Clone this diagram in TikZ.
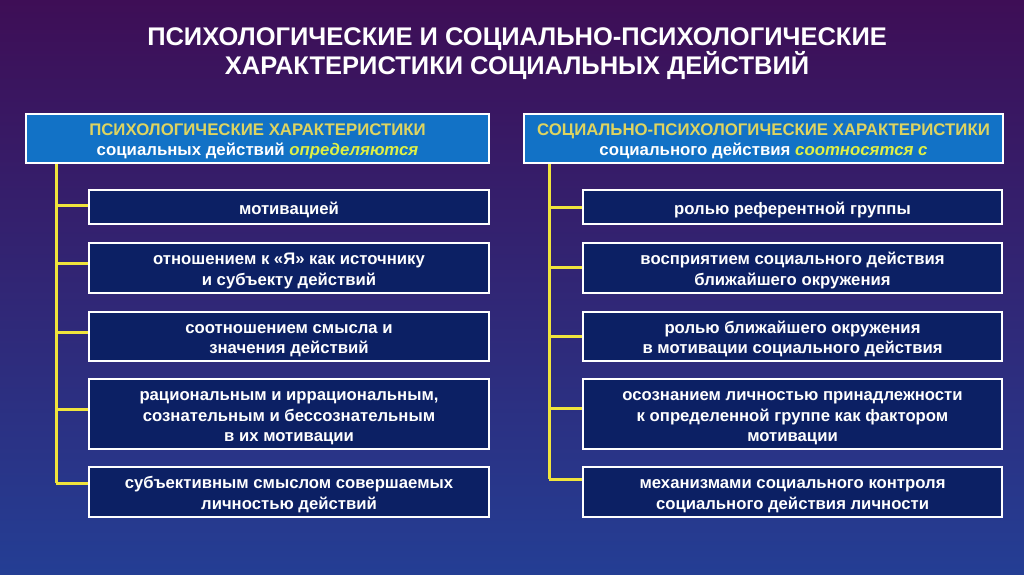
\documentclass[tikz,border=0pt]{standalone}
\usepackage{fontspec}
\setmainfont{Liberation Sans}
\usetikzlibrary{calc}
\definecolor{bgtop}{RGB}{62,14,86}
\definecolor{bgbot}{RGB}{36,62,148}
\definecolor{hdrfill}{RGB}{18,114,198}
\definecolor{itemfill}{RGB}{12,32,100}
\definecolor{yel}{RGB}{240,228,60}
\definecolor{hdrtxt}{RGB}{222,212,96}
\definecolor{hdrit}{RGB}{222,240,70}
\newcommand{\lbl}[1]{\raisebox{-3pt}[\height][\depth]{\begin{tabular}{@{}c@{}}#1\end{tabular}}}
\tikzset{
  hdrbox/.style={draw=white, line width=2.5pt, fill=hdrfill, inner sep=0pt,
    font=\bfseries\fontsize{16.8}{20}\selectfont, text=white},
  itembox/.style={draw=white, line width=2.5pt, fill=itemfill, inner sep=0pt,
    font=\bfseries\fontsize{16.7}{20.5}\selectfont, text=white},
  conn/.style={draw=yel, line width=3pt},
}
\begin{document}
\begin{tikzpicture}[x=1pt,y=-1pt]
\shade[top color=bgtop, bottom color=bgbot] (0,0) rectangle (1024,574);
\useasboundingbox (0,0) rectangle (1024,574);

\node[text=white, align=center, font=\bfseries\fontsize{25.5}{29}\selectfont] (title) at (517,54)
  {ПСИХОЛОГИЧЕСКИЕ И СОЦИАЛЬНО-ПСИХОЛОГИЧЕСКИЕ\\ХАРАКТЕРИСТИКИ СОЦИАЛЬНЫХ ДЕЙСТВИЙ};

% headers
\node[hdrbox, minimum width=463pt, minimum height=49pt] (lh) at (257.5,138.5)
  {\lbl{\textcolor{hdrtxt}{ПСИХОЛОГИЧЕСКИЕ ХАРАКТЕРИСТИКИ}\\социальных действий \textcolor{hdrit}{\itshape определяются}}};
\node[hdrbox, minimum width=479pt, minimum height=49pt] (rh) at (763.5,138.5)
  {\lbl{\textcolor{hdrtxt}{СОЦИАЛЬНО-ПСИХОЛОГИЧЕСКИЕ ХАРАКТЕРИСТИКИ}\\социального действия \textcolor{hdrit}{\itshape соотносятся с}}};

% left items
\node[itembox, minimum width=400pt, minimum height=34pt] (l1) at (289,207) {\lbl{мотивацией}};
\node[itembox, minimum width=400pt, minimum height=50pt] (l2) at (289,268) {\lbl{отношением к «Я» как источнику\\и субъекту действий}};
\node[itembox, minimum width=400pt, minimum height=49pt] (l3) at (289,336.5) {\lbl{соотношением смысла и\\значения действий}};
\node[itembox, minimum width=400pt, minimum height=70pt] (l4) at (289,414) {\lbl{рациональным и иррациональным,\\сознательным и бессознательным\\в их мотивации}};
\node[itembox, minimum width=400pt, minimum height=50pt] (l5) at (289,492) {\lbl{субъективным смыслом совершаемых\\личностью действий}};

% right items
\node[itembox, minimum width=419pt, minimum height=34pt] (r1) at (792.5,207) {\lbl{ролью референтной группы}};
\node[itembox, minimum width=419pt, minimum height=50pt] (r2) at (792.5,268) {\lbl{восприятием социального действия\\ближайшего окружения}};
\node[itembox, minimum width=419pt, minimum height=49pt] (r3) at (792.5,336.5) {\lbl{ролью ближайшего окружения\\в мотивации социального действия}};
\node[itembox, minimum width=419pt, minimum height=70pt] (r4) at (792.5,414) {\lbl{осознанием личностью принадлежности\\к определенной группе как фактором\\мотивации}};
\node[itembox, minimum width=419pt, minimum height=50pt] (r5) at (792.5,492) {\lbl{механизмами социального контроля\\социального действия личности}};

% trunks
\coordinate (lt) at (56,483);
\coordinate (rt) at (549,479);
\draw[conn] (lh.south -| lt) -- (lt);
\draw[conn] (rh.south -| rt) -- (rt);

% left branches
\draw[conn] ([yshift=2pt]l1.west) -- ([yshift=2pt]l1.west -| lt);
\draw[conn] ([yshift=5pt]l2.west) -- ([yshift=5pt]l2.west -| lt);
\draw[conn] ([yshift=4.5pt]l3.west) -- ([yshift=4.5pt]l3.west -| lt);
\draw[conn] ([yshift=5pt]l4.west) -- ([yshift=5pt]l4.west -| lt);
\draw[conn] ([yshift=9pt]l5.west) -- ([yshift=9pt]l5.west -| lt);

% right branches
\draw[conn] (r1.west) -- (r1.west -| rt);
\draw[conn] ([yshift=1pt]r2.west) -- ([yshift=1pt]r2.west -| rt);
\draw[conn] (r3.west) -- (r3.west -| rt);
\draw[conn] ([yshift=6pt]r4.west) -- ([yshift=6pt]r4.west -| rt);
\draw[conn] ([yshift=13pt]r5.west) -- ([yshift=13pt]r5.west -| rt);
\end{tikzpicture}
\end{document}
